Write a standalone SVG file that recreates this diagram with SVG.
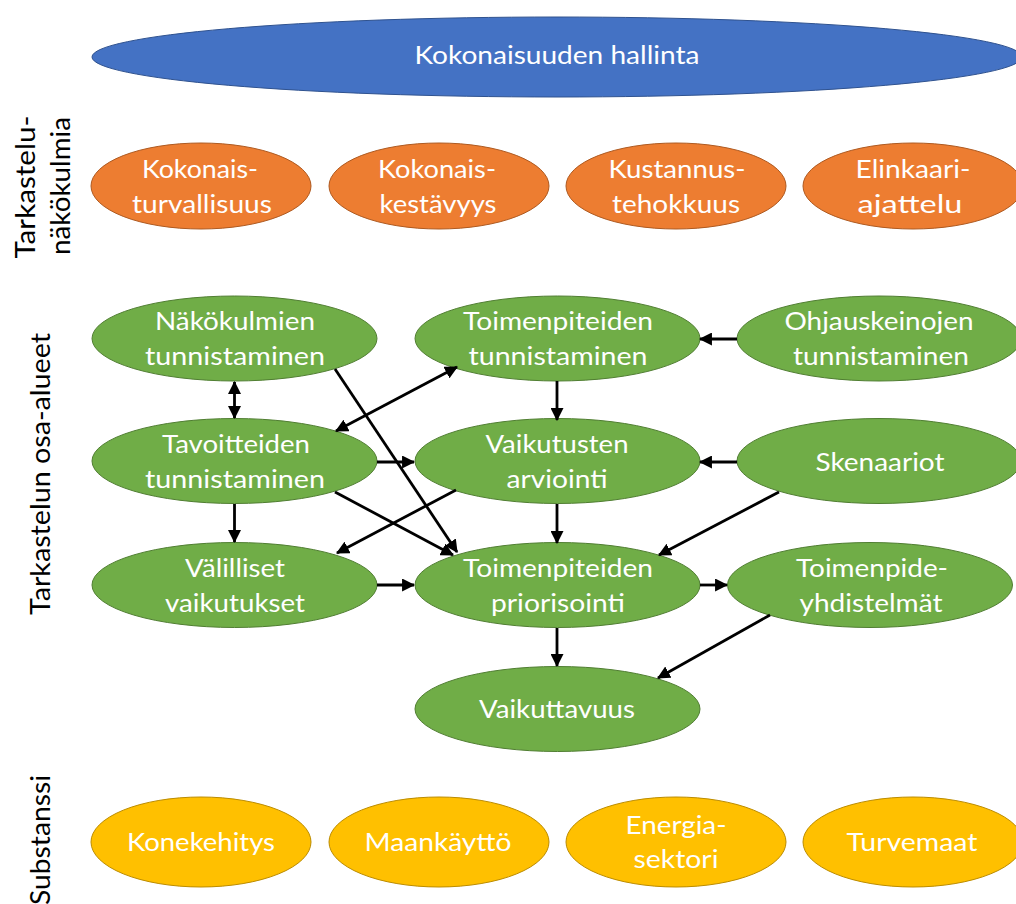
<svg xmlns="http://www.w3.org/2000/svg" width="1016" height="904" viewBox="0 0 1016 904">
<style>
  .t { font-family: Lato, "Open Sans", "Liberation Sans", sans-serif; fill: #ffffff; text-anchor: middle; font-size: 25px; }
  .side { font-family: Lato, "Open Sans", "Liberation Sans", sans-serif; fill: #000000; text-anchor: middle; font-size: 26px; }
  .blue { fill: #4472C4; stroke: #2F528F; stroke-width: 1; }
  .orange { fill: #ED7D31; stroke: #AE5A21; stroke-width: 1; }
  .green { fill: #70AD47; stroke: #507E32; stroke-width: 1; }
  .yellow { fill: #FFC000; stroke: #BC8C00; stroke-width: 1; }
  .c line { stroke: #000000; stroke-width: 2.8; fill: none; }
</style>
<defs>
  <marker id="ah" viewBox="0 0 12 12" refX="11" refY="6" markerWidth="13" markerHeight="13" markerUnits="userSpaceOnUse" orient="auto-start-reverse">
    <path d="M0,0 L12,6 L0,12 z" fill="#000000"/>
  </marker>
</defs>
<rect x="0" y="0" width="1016" height="904" fill="#ffffff"/>

<!-- side labels -->
<g id="label-nakokulmia">
  <text class="side" transform="translate(35,187) rotate(-90)" textLength="143" lengthAdjust="spacingAndGlyphs">Tarkastelu-</text>
  <text class="side" transform="translate(70,186) rotate(-90)" textLength="138" lengthAdjust="spacingAndGlyphs">näkökulmia</text>
</g>
<g id="label-osa-alueet">
  <text class="side" transform="translate(50,474) rotate(-90)" textLength="282" lengthAdjust="spacingAndGlyphs">Tarkastelun osa-alueet</text>
</g>
<g id="label-substanssi">
  <text class="side" transform="translate(50,840) rotate(-90)" textLength="130" lengthAdjust="spacingAndGlyphs">Substanssi</text>
</g>

<!-- top -->
<g id="kokonaisuuden-hallinta">
  <ellipse class="blue" cx="557" cy="57" rx="465" ry="40"/>
  <text class="t" x="557" y="64" textLength="285" lengthAdjust="spacingAndGlyphs">Kokonaisuuden hallinta</text>
</g>

<!-- orange row -->
<g id="kokonaisturvallisuus">
  <ellipse class="orange" cx="201" cy="186" rx="110" ry="43"/>
  <text class="t" x="200" y="178" textLength="116" lengthAdjust="spacingAndGlyphs">Kokonais-</text>
  <text class="t" x="202" y="213" textLength="140" lengthAdjust="spacingAndGlyphs">turvallisuus</text>
</g>
<g id="kokonaiskestavyys">
  <ellipse class="orange" cx="439" cy="186" rx="110" ry="43"/>
  <text class="t" x="437" y="178" textLength="118" lengthAdjust="spacingAndGlyphs">Kokonais-</text>
  <text class="t" x="438" y="213" textLength="117" lengthAdjust="spacingAndGlyphs">kestävyys</text>
</g>
<g id="kustannustehokkuus">
  <ellipse class="orange" cx="676" cy="186" rx="110" ry="43"/>
  <text class="t" x="677" y="178" textLength="137" lengthAdjust="spacingAndGlyphs">Kustannus-</text>
  <text class="t" x="676" y="213" textLength="128" lengthAdjust="spacingAndGlyphs">tehokkuus</text>
</g>
<g id="elinkaariajattelu">
  <ellipse class="orange" cx="913" cy="186" rx="110" ry="43"/>
  <text class="t" x="913" y="178" textLength="115" lengthAdjust="spacingAndGlyphs">Elinkaari-</text>
  <text class="t" x="910" y="213" textLength="105" lengthAdjust="spacingAndGlyphs">ajattelu</text>
</g>

<!-- green nodes -->
<g id="nakokulmien-tunnistaminen">
  <ellipse class="green" cx="234.5" cy="338.5" rx="142.5" ry="42.5"/>
  <text class="t" x="235" y="330" textLength="160" lengthAdjust="spacingAndGlyphs">Näkökulmien</text>
  <text class="t" x="235" y="365" textLength="180" lengthAdjust="spacingAndGlyphs">tunnistaminen</text>
</g>
<g id="toimenpiteiden-tunnistaminen">
  <ellipse class="green" cx="557.5" cy="338.5" rx="142.5" ry="42.5"/>
  <text class="t" x="558" y="330" textLength="190" lengthAdjust="spacingAndGlyphs">Toimenpiteiden</text>
  <text class="t" x="558" y="365" textLength="179" lengthAdjust="spacingAndGlyphs">tunnistaminen</text>
</g>
<g id="ohjauskeinojen-tunnistaminen">
  <ellipse class="green" cx="879" cy="338.5" rx="142" ry="42.5"/>
  <text class="t" x="879" y="330" textLength="189" lengthAdjust="spacingAndGlyphs">Ohjauskeinojen</text>
  <text class="t" x="881" y="365" textLength="176" lengthAdjust="spacingAndGlyphs">tunnistaminen</text>
</g>
<g id="tavoitteiden-tunnistaminen">
  <ellipse class="green" cx="234.5" cy="461" rx="142.5" ry="42.5"/>
  <text class="t" x="236" y="453" textLength="148" lengthAdjust="spacingAndGlyphs">Tavoitteiden</text>
  <text class="t" x="235" y="488" textLength="180" lengthAdjust="spacingAndGlyphs">tunnistaminen</text>
</g>
<g id="vaikutusten-arviointi">
  <ellipse class="green" cx="557.5" cy="461" rx="142.5" ry="42.5"/>
  <text class="t" x="557" y="453" textLength="143" lengthAdjust="spacingAndGlyphs">Vaikutusten</text>
  <text class="t" x="557" y="488" textLength="101" lengthAdjust="spacingAndGlyphs">arviointi</text>
</g>
<g id="skenaariot">
  <ellipse class="green" cx="879" cy="461" rx="142" ry="42.5"/>
  <text class="t" x="880" y="471" textLength="129" lengthAdjust="spacingAndGlyphs">Skenaariot</text>
</g>
<g id="valilliset-vaikutukset">
  <ellipse class="green" cx="234.5" cy="585" rx="142.5" ry="42.5"/>
  <text class="t" x="235" y="577" textLength="100" lengthAdjust="spacingAndGlyphs">Välilliset</text>
  <text class="t" x="235" y="612" textLength="140" lengthAdjust="spacingAndGlyphs">vaikutukset</text>
</g>
<g id="toimenpiteiden-priorisointi">
  <ellipse class="green" cx="557.5" cy="585" rx="142.5" ry="42.5"/>
  <text class="t" x="558" y="577" textLength="190" lengthAdjust="spacingAndGlyphs">Toimenpiteiden</text>
  <text class="t" x="558" y="612" textLength="134" lengthAdjust="spacingAndGlyphs">priorisointi</text>
</g>
<g id="toimenpideyhdistelmat">
  <ellipse class="green" cx="870" cy="585" rx="142.5" ry="42.5"/>
  <text class="t" x="872" y="577" textLength="152" lengthAdjust="spacingAndGlyphs">Toimenpide-</text>
  <text class="t" x="871" y="612" textLength="143" lengthAdjust="spacingAndGlyphs">yhdistelmät</text>
</g>
<g id="vaikuttavuus">
  <ellipse class="green" cx="557.5" cy="709" rx="142.5" ry="42.5"/>
  <text class="t" x="557" y="718" textLength="156" lengthAdjust="spacingAndGlyphs">Vaikuttavuus</text>
</g>

<!-- yellow row -->
<g id="konekehitys">
  <ellipse class="yellow" cx="201" cy="842" rx="110" ry="45"/>
  <text class="t" x="201" y="851" textLength="148" lengthAdjust="spacingAndGlyphs">Konekehitys</text>
</g>
<g id="maankaytto">
  <ellipse class="yellow" cx="439" cy="842" rx="110" ry="45"/>
  <text class="t" x="438" y="851" textLength="147" lengthAdjust="spacingAndGlyphs">Maankäyttö</text>
</g>
<g id="energiasektori">
  <ellipse class="yellow" cx="676" cy="842" rx="110" ry="45"/>
  <text class="t" x="676" y="834" textLength="101" lengthAdjust="spacingAndGlyphs">Energia-</text>
  <text class="t" x="676" y="868" textLength="85" lengthAdjust="spacingAndGlyphs">sektori</text>
</g>
<g id="turvemaat">
  <ellipse class="yellow" cx="913" cy="842" rx="110" ry="45"/>
  <text class="t" x="912" y="851" textLength="131" lengthAdjust="spacingAndGlyphs">Turvemaat</text>
</g>

<!-- connectors -->
<g id="connectors" class="c">
  <line x1="234.5" y1="382" x2="234.5" y2="418" marker-start="url(#ah)" marker-end="url(#ah)"/>
  <line x1="335" y1="369" x2="457" y2="552" marker-end="url(#ah)"/>
  <line x1="336" y1="431" x2="457" y2="367" marker-start="url(#ah)" marker-end="url(#ah)"/>
  <line x1="377" y1="462" x2="414" y2="462" marker-end="url(#ah)"/>
  <line x1="234.5" y1="504" x2="234.5" y2="542" marker-end="url(#ah)"/>
  <line x1="335" y1="492" x2="453" y2="555" marker-end="url(#ah)"/>
  <line x1="456" y1="490" x2="337" y2="553" marker-end="url(#ah)"/>
  <line x1="557" y1="381" x2="557" y2="420" marker-end="url(#ah)"/>
  <line x1="737" y1="339" x2="700" y2="339" marker-end="url(#ah)"/>
  <line x1="737" y1="462" x2="700" y2="462" marker-end="url(#ah)"/>
  <line x1="557" y1="504" x2="557" y2="543" marker-end="url(#ah)"/>
  <line x1="779" y1="492" x2="659" y2="555" marker-end="url(#ah)"/>
  <line x1="377" y1="585" x2="414" y2="585" marker-end="url(#ah)"/>
  <line x1="700" y1="585" x2="727" y2="585" marker-end="url(#ah)"/>
  <line x1="557" y1="628" x2="557" y2="666" marker-end="url(#ah)"/>
  <line x1="770" y1="615" x2="658" y2="678" marker-end="url(#ah)"/>
</g>
</svg>
